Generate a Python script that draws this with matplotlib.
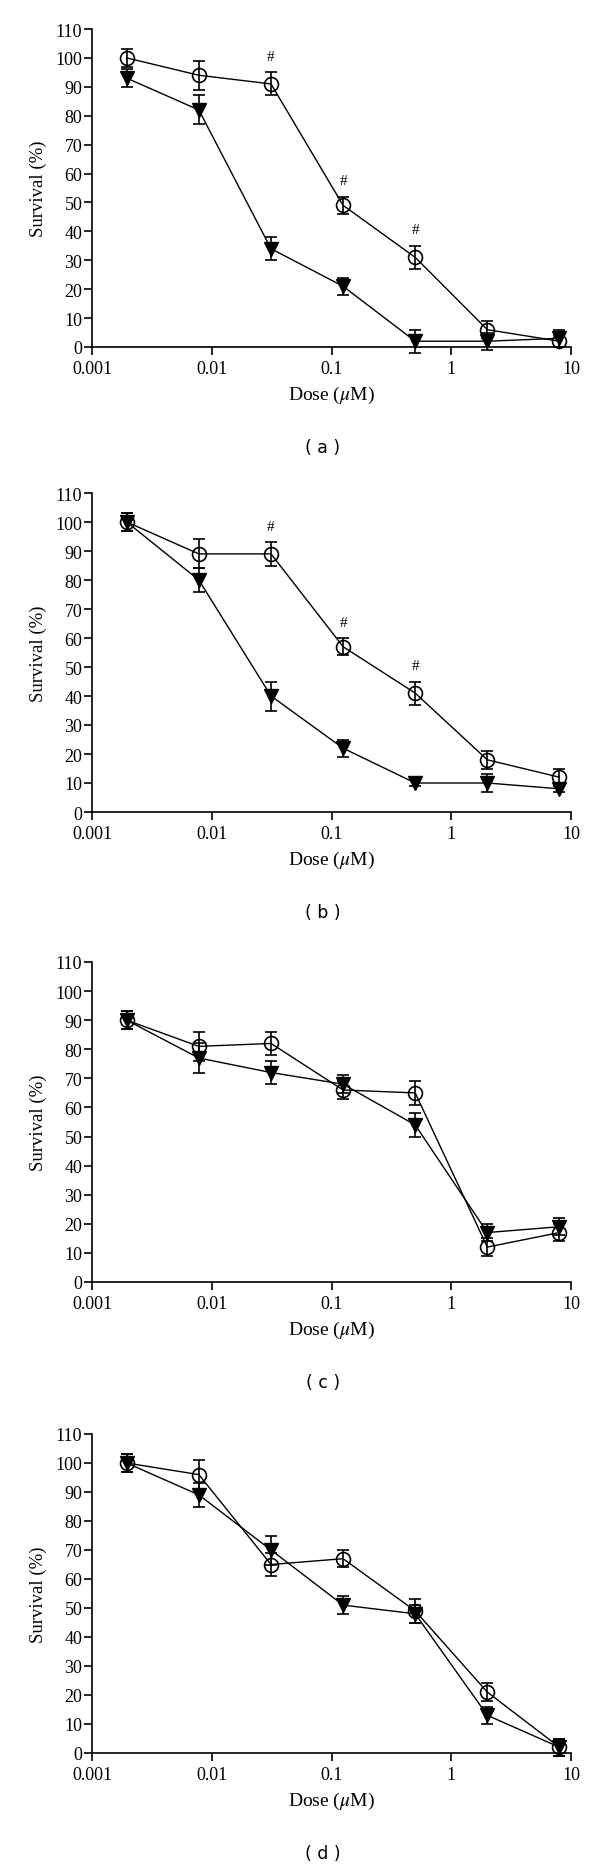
import matplotlib
matplotlib.use("Agg")
import matplotlib.pyplot as plt

plt.rcParams["font.family"] = ["Liberation Serif", "DejaVu Serif"]
plt.rcParams["mathtext.fontset"] = "stix"

# doses (uM), 4-fold dilutions
doses = [0.00195, 0.0078, 0.03125, 0.125, 0.5, 2, 8]
panel_labels = ["( a )", "( b )", "( c )", "( d )"]

# open circles
circ_a = [100, 94, 91, 49, 31, 6, 2]
circ_a_err = [3, 5, 4, 3, 4, 3, 2]
circ_b = [100, 89, 89, 57, 41, 18, 12]
circ_b_err = [3, 5, 4, 3, 4, 3, 3]
circ_c = [90, 81, 82, 66, 65, 12, 17]
circ_c_err = [3, 5, 4, 3, 4, 3, 3]
circ_d = [100, 96, 65, 67, 49, 21, 2]
circ_d_err = [3, 5, 4, 3, 4, 3, 3]

# filled triangles
tri_a = [93, 82, 34, 21, 2, 2, 3]
tri_a_err = [3, 5, 4, 3, 4, 3, 3]
tri_b = [100, 80, 40, 22, 10, 10, 8]
tri_b_err = [3, 4, 5, 3, 1, 3, 1]
tri_c = [90, 77, 72, 68, 54, 17, 19]
tri_c_err = [3, 5, 4, 3, 4, 3, 3]
tri_d = [100, 89, 70, 51, 48, 13, 2]
tri_d_err = [3, 4, 5, 3, 3, 3, 3]

# indices of doses marked with "#"
hash_a = [2, 3, 4]
hash_b = [2, 3, 4]
hash_c = []
hash_d = []

yticks = list(range(0, 111, 10))
xticks = [0.001, 0.01, 0.1, 1, 10]
xticklabels = ["0.001", "0.01", "0.1", "1", "10"]

panels = [
    (circ_a, circ_a_err, tri_a, tri_a_err, hash_a),
    (circ_b, circ_b_err, tri_b, tri_b_err, hash_b),
    (circ_c, circ_c_err, tri_c, tri_c_err, hash_c),
    (circ_d, circ_d_err, tri_d, tri_d_err, hash_d),
]

W, H = 600, 1874
tops = [30, 494, 963, 1435]
bottoms = [348, 813, 1283, 1754]
left, right = 92, 571

fig = plt.figure(figsize=(W / 100, H / 100), dpi=100)

for i, (circ, circ_err, tri, tri_err, hashes) in enumerate(panels):
    ax = fig.add_axes([left / W, 1 - bottoms[i] / H,
                       (right - left) / W, (bottoms[i] - tops[i]) / H])
    ax.set_xscale("log")
    ax.set_xlim(0.001, 10)
    ax.set_ylim(0, 110)

    ax.errorbar(doses, circ, yerr=circ_err, fmt="-o", color="black",
                mfc="none", mec="black", ms=10, mew=1.2, lw=1.0,
                elinewidth=1.2, capsize=4.5, capthick=1.2, clip_on=False, zorder=3)
    ax.errorbar(doses, tri, yerr=tri_err, fmt="-v", color="black",
                mfc="black", mec="black", ms=10, lw=1.0,
                elinewidth=1.2, capsize=4.5, capthick=1.2, clip_on=False, zorder=4)

    for k in hashes:
        ax.text(doses[k], circ[k] + circ_err[k] + 5.5, "#", ha="center",
                va="center", fontsize=11)

    if i == 0:
        ax.axhline(0, color="black", lw=0.9, ls=":", zorder=2)

    ax.spines["top"].set_visible(False)
    ax.spines["right"].set_visible(False)
    ax.spines["left"].set_linewidth(1.2)
    ax.spines["bottom"].set_linewidth(1.2)
    ax.set_yticks(yticks)
    ax.set_xticks(xticks)
    ax.set_xticklabels(xticklabels)
    ax.minorticks_off()
    ax.tick_params(direction="out", length=5.5, width=1.2, labelsize=13)
    ax.tick_params(axis="y", pad=1.5)
    ax.tick_params(axis="x", pad=4)

    ax.set_ylabel("Survival (%)", fontsize=13.5, labelpad=6)
    ax.set_xlabel(r"Dose ($\mu$M)", fontsize=14, labelpad=5)

    fig.text(323 / W, 1 - (bottoms[i] + 100) / H, panel_labels[i],
             ha="center", va="center", fontsize=12.5, family="DejaVu Sans")

fig.savefig("out.png", dpi=100)
